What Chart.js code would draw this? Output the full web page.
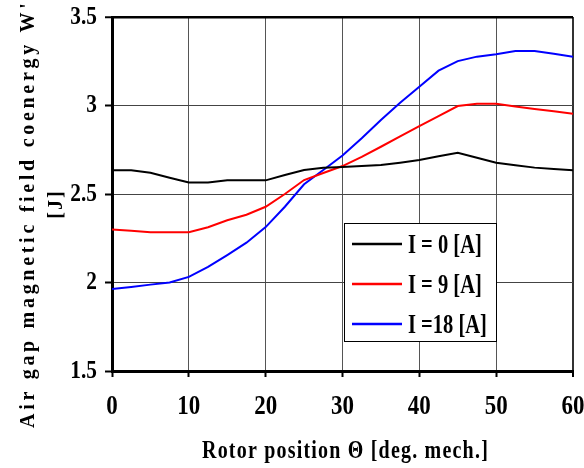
<!DOCTYPE html>
<html>
<head>
<meta charset="utf-8">
<script src="https://cdn.jsdelivr.net/npm/chart.js@4"></script>
<style>
  html, body { margin: 0; padding: 0; background: #fff; }
  #wrap { width: 584px; height: 468px; }
</style>
</head>
<body>
<div id="wrap"><canvas id="chart" width="584" height="468"></canvas></div>
<script>
// Rotor position [deg. mech.]
const angles = [0, 2.5, 5, 7.5, 10, 12.5, 15, 17.5, 20, 22.5, 25, 27.5, 30,
  32.5, 35, 37.5, 40, 42.5, 45, 47.5, 50, 52.5, 55, 57.5, 60];

// Coenergy W' [J] for each current
const coenergyI0 = [2.634, 2.634, 2.62, 2.592, 2.565, 2.565, 2.577, 2.577, 2.577, 2.607, 2.636, 2.648, 2.652,
  2.658, 2.664, 2.677, 2.692, 2.713, 2.733, 2.705, 2.677, 2.662, 2.649, 2.641, 2.634];
const coenergyI9 = [2.30, 2.292, 2.284, 2.284, 2.284, 2.312, 2.352, 2.383, 2.428, 2.50, 2.579, 2.619, 2.658,
  2.71, 2.767, 2.826, 2.884, 2.94, 2.997, 3.01, 3.01, 2.995, 2.98, 2.967, 2.954];
const coenergyI18 = [1.963, 1.975, 1.988, 2.0, 2.032, 2.088, 2.155, 2.225, 2.313, 2.428, 2.555, 2.636, 2.717,
  2.815, 2.918, 3.015, 3.106, 3.197, 3.251, 3.276, 3.29, 3.308, 3.308, 3.292, 3.276];

const seriesLabels = ['I = 0 [A]', 'I = 9 [A]', 'I =18 [A]'];
const seriesColors = ['#000000', '#ff0000', '#0000ff'];

const xTitle = 'Rotor position \u0398 [deg. mech.]';
const yTitle = ["Air gap magnetic field coenergy W'", '[J]'];

const serif = '"Liberation Serif", "Times New Roman", serif';

// the original uses a narrow bold Times, squeeze text horizontally
let squeeze = 0.82;
const narrowText = {
  id: 'narrowText',
  beforeDraw(chart) {
    const ctx = chart.ctx;
    squeeze = 0.82;
    if (ctx._narrow) return;
    const orig = ctx.fillText.bind(ctx);
    ctx.fillText = (t, x, y, m) => {
      ctx.save();
      ctx.translate(x, y);
      ctx.scale(squeeze, 1);
      orig(t, 0, 0);
      ctx.restore();
    };
    ctx._narrow = true;
  }
};

// axis titles and the boxed legend inside the plot
const extras = {
  id: 'extras',
  afterDraw(chart) {
    const ctx = chart.ctx;
    const area = chart.chartArea;

    // y title, rotated and letter spaced
    ctx.save();
    ctx.fillStyle = '#000';
    ctx.font = 'bold 20px ' + serif;
    ctx.letterSpacing = '3.7px';
    squeeze = 1;
    ctx.translate(34, 428);
    ctx.rotate(-Math.PI / 2);
    ctx.textAlign = 'left';
    ctx.textBaseline = 'alphabetic';
    ctx.fillText(yTitle[0], 0, 0);
    ctx.restore();

    ctx.save();
    ctx.fillStyle = '#000';
    ctx.font = 'bold 20px ' + serif;
    ctx.letterSpacing = '2px';
    squeeze = 1;
    ctx.translate(62, 204);
    ctx.rotate(-Math.PI / 2);
    ctx.textAlign = 'center';
    ctx.textBaseline = 'alphabetic';
    ctx.fillText(yTitle[1], 0, 0);
    ctx.restore();

    // x title
    ctx.save();
    ctx.fillStyle = '#000';
    ctx.font = 'bold 25px ' + serif;
    ctx.letterSpacing = '1.5px';
    squeeze = 0.8;
    ctx.textAlign = 'center';
    ctx.textBaseline = 'alphabetic';
    ctx.fillText(xTitle, (area.left + area.right) / 2 + 3, 458);
    ctx.restore();

    // legend
    const bx = 344, by = 223, bw = 152, bh = 118;
    ctx.save();
    ctx.fillStyle = '#fff';
    ctx.fillRect(bx, by, bw, bh);
    ctx.strokeStyle = '#000';
    ctx.lineWidth = 1;
    ctx.strokeRect(bx + 0.5, by + 0.5, bw, bh);
    ctx.font = 'bold 27px ' + serif;
    ctx.textAlign = 'left';
    ctx.textBaseline = 'alphabetic';
    squeeze = 0.76;
    chart.data.datasets.forEach((ds, i) => {
      const ly = by + 21 + i * 40;
      ctx.strokeStyle = ds.borderColor;
      ctx.lineWidth = 2.5;
      ctx.beginPath();
      ctx.moveTo(352, ly);
      ctx.lineTo(402, ly);
      ctx.stroke();
      ctx.fillStyle = '#000';
      ctx.fillText(ds.label, 408, ly + 9);
    });
    ctx.restore();
    squeeze = 0.82;
  }
};

const series = [coenergyI0, coenergyI9, coenergyI18];

new Chart(document.getElementById('chart'), {
  type: 'scatter',
  data: {
    datasets: series.map((vals, i) => ({
      label: seriesLabels[i],
      data: angles.map((a, j) => ({ x: a, y: vals[j] })),
      showLine: true,
      borderColor: seriesColors[i],
      backgroundColor: seriesColors[i],
      borderWidth: 2,
      pointRadius: 0,
      tension: 0
    }))
  },
  options: {
    responsive: false,
    animation: false,
    devicePixelRatio: 1,
    layout: { padding: { top: 17, right: 11, left: 0, bottom: 0 } },
    plugins: {
      legend: { display: false },
      tooltip: { enabled: false }
    },
    scales: {
      x: {
        type: 'linear',
        min: 0,
        max: 60,
        ticks: {
          stepSize: 10,
          color: '#000',
          padding: 13,
          font: { family: serif, size: 28, weight: 'bold' }
        },
        grid: {
          color: (c) => c.tick && c.tick.value === 60 ? '#333' : '#555',
          lineWidth: (c) => c.tick && c.tick.value === 60 ? 2 : 1,
          tickLength: 6,
          tickColor: '#000',
          tickWidth: 2
        },
        border: { color: '#000', width: 3 },
        afterFit(scale) {
          scale.height = 97;
          scale.paddingLeft = 0;
          scale.paddingRight = 0;
        }
      },
      y: {
        min: 1.5,
        max: 3.5,
        ticks: {
          stepSize: 0.5,
          color: '#000',
          padding: 8,
          font: { family: serif, size: 26, weight: 'bold' },
          callback: (v) => String(v)
        },
        grid: {
          color: (c) => c.tick && c.tick.value === 3.5 ? '#000' : '#444',
          lineWidth: (c) => c.tick && c.tick.value === 3.5 ? 2.5 : 1,
          tickLength: 7,
          tickColor: '#000',
          tickWidth: 2
        },
        border: { color: '#000', width: 3 },
        afterFit(scale) {
          scale.width = 112;
          scale.paddingTop = 0;
          scale.paddingBottom = 0;
        }
      }
    }
  },
  plugins: [narrowText, extras]
});
</script>
</body>
</html>
